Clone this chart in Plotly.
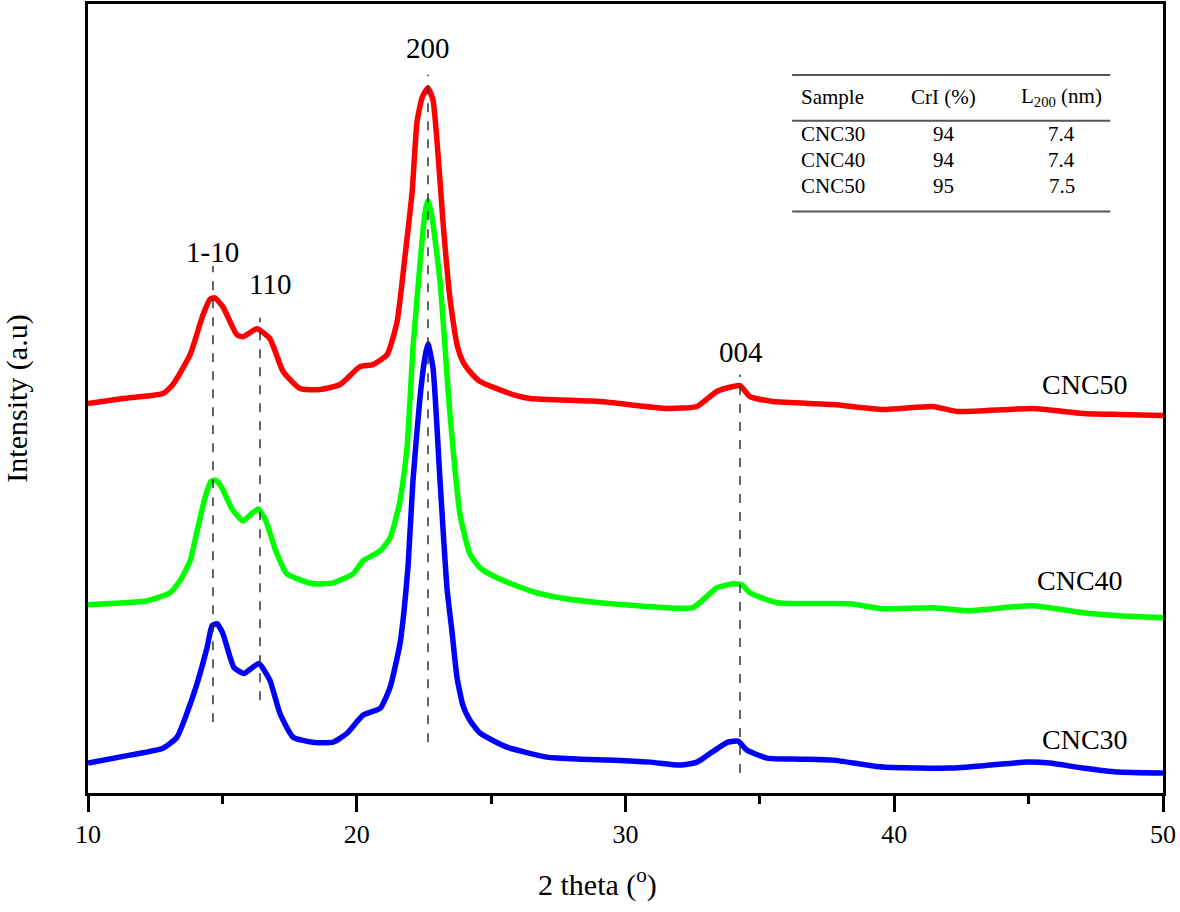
import plotly.graph_objects as go

# ---------------- data ----------------
x_cnc30 = [10.0, 11.56, 12.79, 13.31, 13.68, 14.06, 14.43, 14.62, 14.80, 15.02, 15.43, 15.80, 16.07, 16.36, 16.77,
           17.14, 17.63, 18.37, 19.12, 19.64, 20.23, 20.87, 21.24, 21.61, 21.76, 21.91, 22.09, 22.35, 22.54,
           22.65, 22.84, 23.10, 23.36, 23.54, 23.73, 23.95, 24.21, 24.59, 25.59, 27.08, 28.31, 29.61, 30.91,
           32.03, 32.66, 33.22, 33.81, 34.19, 34.52, 35.27, 36.49, 37.72, 39.58, 42.07, 43.56, 44.94, 45.79,
           47.02, 48.29, 50.0]
y_cnc30 = [30, 38, 45, 56, 80, 110, 146, 168, 170, 160, 126, 120, 125, 130, 113,
           80, 56, 51, 51, 60, 78, 85, 106, 150, 183, 228, 313, 396, 438,
           451, 426, 313, 205, 163, 116, 88, 73, 60, 46, 36, 34, 33, 31,
           28, 31, 41, 51, 52, 43, 35, 34, 33, 26, 25, 28, 31, 30,
           25, 21, 20]

x_cnc40 = [10.0, 12.2, 13.05, 13.42, 13.8, 14.06, 14.35, 14.58, 14.75, 14.99, 15.36, 15.77, 16.03, 16.33, 16.62,
           16.96, 17.40, 18.37, 19.12, 19.86, 20.23, 20.87, 21.24, 21.61, 21.87, 22.09, 22.35, 22.54, 22.65,
           22.80, 23.10, 23.47, 23.84, 24.21, 24.59, 25.22, 26.45, 27.56, 29.05, 31.54, 32.51, 33.40, 34.0,
           34.33, 34.63, 35.64, 38.35, 39.58, 41.44, 42.71, 45.16, 47.02, 48.4, 50.0]
y_cnc40 = [189, 193, 201, 213, 233, 263, 296, 313, 314, 306, 285, 273, 279, 285, 273,
           245, 220, 210, 211, 220, 233, 243, 256, 293, 346, 446, 530, 583, 595,
           578, 513, 380, 280, 240, 226, 216, 203, 196, 191, 186, 186, 206, 210,
           209, 201, 191, 190, 185, 186, 183, 188, 181, 178, 176]

x_cnc50 = [10.0, 11.3, 12.79, 13.16, 13.80, 14.28, 14.55, 14.72, 15.02, 15.54, 15.77, 16.29, 16.77, 17.26, 17.89,
           18.63, 19.38, 20.12, 20.60, 21.13, 21.50, 21.80, 22.06, 22.24, 22.43, 22.65, 22.84, 23.02, 23.21,
           23.47, 23.73, 23.95, 24.21, 24.59, 25.81, 26.45, 29.05, 31.54, 32.66, 33.40, 34.0, 34.26, 34.63,
           35.49, 37.72, 39.58, 41.44, 42.33, 45.16, 47.02, 48.4, 50.0]
y_cnc50 = [391, 396, 401, 410, 440, 480, 496, 497, 488, 460, 458, 466, 456, 423, 406,
           405, 410, 428, 430, 440, 473, 540, 603, 673, 698, 708, 695, 643, 573,
           496, 450, 433, 423, 413, 400, 396, 393, 386, 388, 403, 408, 409, 398,
           393, 390, 385, 388, 383, 386, 381, 380, 379]

series_names = ["CNC30", "CNC40", "CNC50"]
series_colors = ["#0000ff", "#00ff00", "#ff0000"]
series_x = [x_cnc30, x_cnc40, x_cnc50]
series_y = [y_cnc30, y_cnc40, y_cnc50]
label_x = [47.1, 46.9, 47.1]
label_y = [54, 213, 410]

peak_labels = ["1-10", "110", "200", "004"]
peak_pos = [14.65, 16.40, 22.65, 34.26]
peak_line_lo = [71, 93, 51, 20]
peak_line_hi = [529, 477, 721, 420]
peak_text_x = [14.65, 16.77, 22.65, 34.30]
peak_text_y = [543, 511, 748, 443]

table_header = ["Sample", "CrI (%)", "L<sub>200</sub> (nm)"]
table_samples = ["CNC30", "CNC40", "CNC50"]
table_cri = ["94", "94", "95"]
table_l200 = ["7.4", "7.4", "7.5"]

FONT = "Liberation Serif, Times New Roman, serif"

fig = go.Figure()
for name, col, xs, ys in zip(series_names, series_colors, series_x, series_y):
    fig.add_trace(go.Scatter(x=xs, y=ys, mode="lines", name=name,
                             line=dict(color=col, width=5.5, shape="spline", smoothing=0.5),
                             showlegend=False, hoverinfo="skip"))

# dashed peak markers
for p, lo, hi in zip(peak_pos, peak_line_lo, peak_line_hi):
    fig.add_shape(type="line", xref="x", yref="y", x0=p, x1=p, y0=lo, y1=hi,
                  line=dict(color="#333333", width=1.5, dash="dash"), layer="above")
for t, tx, ty in zip(peak_labels, peak_text_x, peak_text_y):
    fig.add_annotation(x=tx, y=ty, xref="x", yref="y", text=t, showarrow=False,
                       font=dict(family=FONT, size=29, color="black"),
                       xanchor="center", yanchor="middle")

# series labels
for name, lx, ly in zip(series_names, label_x, label_y):
    fig.add_annotation(x=lx, y=ly, xref="x", yref="y", text=name, showarrow=False,
                       xanchor="center", yanchor="middle",
                       font=dict(family=FONT, size=28, color="black"))

# inset table (paper coords)
tx0, tx1 = 0.655, 0.951
for yl in [0.910, 0.852, 0.737]:
    fig.add_shape(type="line", xref="paper", yref="paper", x0=tx0, x1=tx1, y0=yl, y1=yl,
                  line=dict(color="#555555", width=2))
col_x = [0.661, 0.796, 0.906]
col_anchor = ["left", "center", "center"]
row_y = [0.835, 0.802, 0.769]
for h, cx, an in zip(table_header, col_x, col_anchor):
    fig.add_annotation(x=cx, y=0.882, xref="paper", yref="paper", text=h, showarrow=False,
                       xanchor=an, yanchor="middle", font=dict(family=FONT, size=21, color="black"))
for i in range(len(table_samples)):
    for val, cx, an in zip([table_samples[i], table_cri[i], table_l200[i]], col_x, col_anchor):
        fig.add_annotation(x=cx, y=row_y[i], xref="paper", yref="paper", text=val, showarrow=False,
                           xanchor=an, yanchor="middle", font=dict(family=FONT, size=21, color="black"))

# x-axis title (placed slightly left of centre, as in the reference)
fig.add_annotation(x=0.474, y=-0.1136, xref="paper", yref="paper", text="2 theta (<sup>o</sup>)",
                   showarrow=False, xanchor="center", yanchor="middle",
                   font=dict(family=FONT, size=30, color="black"))

fig.update_layout(
    width=1180, height=912,
    margin=dict(l=88, r=17, t=1, b=119),
    paper_bgcolor="white", plot_bgcolor="white",
    font=dict(family=FONT, color="black"),
    hovermode=False,
    xaxis=dict(range=[10, 50], tickvals=[10, 20, 30, 40, 50], ticks="outside", ticklen=16,
               tickwidth=2.5, tickcolor="black", showline=True, linecolor="black", linewidth=2.5,
               mirror=True, showgrid=False, zeroline=False,
               tickfont=dict(family=FONT, size=26, color="black"),
               minor=dict(ticks="outside", ticklen=8, tickwidth=2.5, dtick=5, tick0=0, tickcolor="black")),
    yaxis=dict(range=[0, 792], showticklabels=False, ticks="", showline=True, linecolor="black",
               linewidth=3, mirror=True, showgrid=False, zeroline=False,
               title=dict(text="Intensity (a.u)", font=dict(family=FONT, size=30, color="black"),
                          standoff=50)),
)

fig.write_html("out.html", config={"displayModeBar": False},
               post_script="document.body.style.margin='0';")
